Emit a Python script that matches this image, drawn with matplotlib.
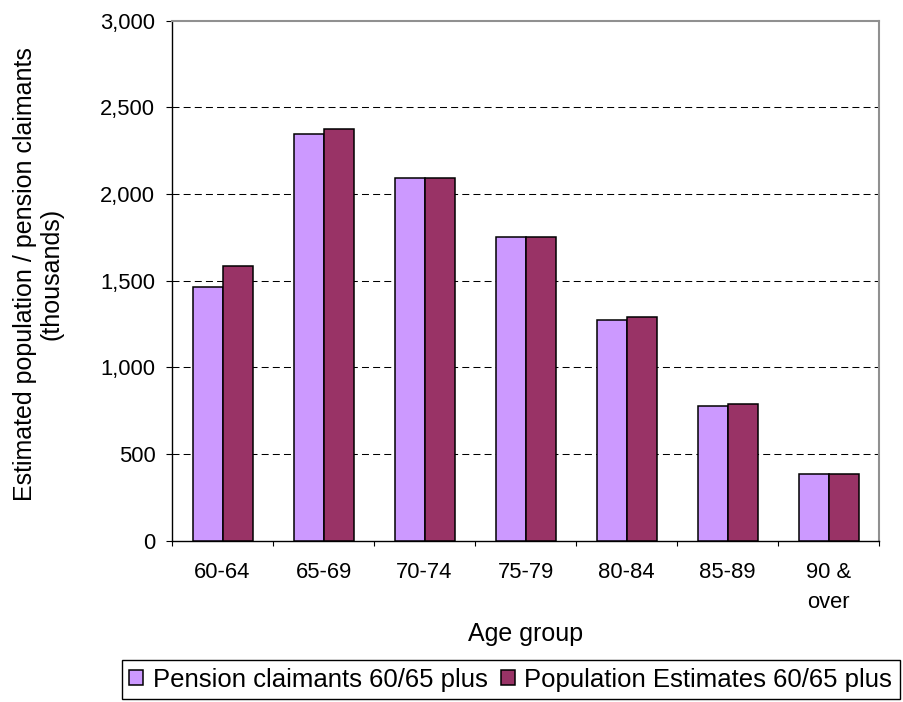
import matplotlib
matplotlib.use("Agg")
import matplotlib.pyplot as plt
import numpy as np
from matplotlib.ticker import FuncFormatter

plt.rcParams['font.family'] = ['Liberation Sans', 'DejaVu Sans']

categories = ['60-64', '65-69', '70-74', '75-79', '80-84', '85-89', '90 &\nover']
pension = [1463, 2348, 2092, 1754, 1275, 777, 385]
population = [1582, 2378, 2092, 1754, 1288, 790, 385]
series_names = ['Pension claimants 60/65 plus', 'Population Estimates 60/65 plus']
yticks = [0, 500, 1000, 1500, 2000, 2500, 3000]

fig = plt.figure(figsize=(9.04, 7.02), dpi=100)
ax = fig.add_axes([0.1903, 0.2298, 0.7821, 0.7407])

x = np.arange(len(categories))
w = 0.297
ax.bar(x - w / 2, pension, w, color='#CC99FF', edgecolor='black', linewidth=1.1,
       label=series_names[0], zorder=3)
ax.bar(x + w / 2, population, w, color='#993366', edgecolor='black', linewidth=1.1,
       label=series_names[1], zorder=3)

ax.set_xlim(-0.5, len(categories) - 0.5)
ax.set_ylim(yticks[0], yticks[-1])
ax.set_yticks(yticks)
ax.yaxis.set_major_formatter(FuncFormatter(lambda v, p: f"{int(v):,}"))

ax.yaxis.grid(True, linestyle=(0, (6.7, 4)), color='black', linewidth=0.75)
ax.set_axisbelow(True)
gls = ax.get_ygridlines()
gls[0].set_visible(False)
gls[-1].set_visible(False)

ax.set_xticks(x)
ax.set_xticklabels(categories, fontsize=15.8, linespacing=1.55)
ax.set_xticks(np.arange(len(categories) + 1) - 0.5, minor=True)
ax.tick_params(axis='x', which='major', length=0, pad=15.5)
ax.tick_params(axis='x', which='minor', length=3.6, width=0.8, color='black', direction='out')
ax.tick_params(axis='y', which='major', length=4.3, width=0.8, pad=7.7, labelsize=15.8)

for s in ['left', 'bottom']:
    ax.spines[s].set_color('black')
    ax.spines[s].set_linewidth(1.0)
for s in ['top', 'right']:
    ax.spines[s].set_color('#909090')
    ax.spines[s].set_linewidth(1.5)

ax.set_xlabel('Age group', fontsize=18, va='top')
ax.xaxis.set_label_coords(0.5, -0.1558)
ax.set_ylabel('Estimated population / pension claimants\n(thousands)', fontsize=18,
              linespacing=1.15, va='center', ha='center')
ax.yaxis.set_label_coords(-0.1888, 0.513)

leg = ax.legend(loc='upper left', bbox_to_anchor=(0.1346, 1 - 660 / 702),
                bbox_transform=fig.transFigure, ncol=2, fontsize=18.5,
                frameon=True, fancybox=False, edgecolor='black', framealpha=1,
                handlelength=0.54, handleheight=0.54, handletextpad=0.38,
                columnspacing=0.5, borderpad=0.3, borderaxespad=0)
leg.get_frame().set_linewidth(1.0)

fig.savefig('out.png', dpi=100)
